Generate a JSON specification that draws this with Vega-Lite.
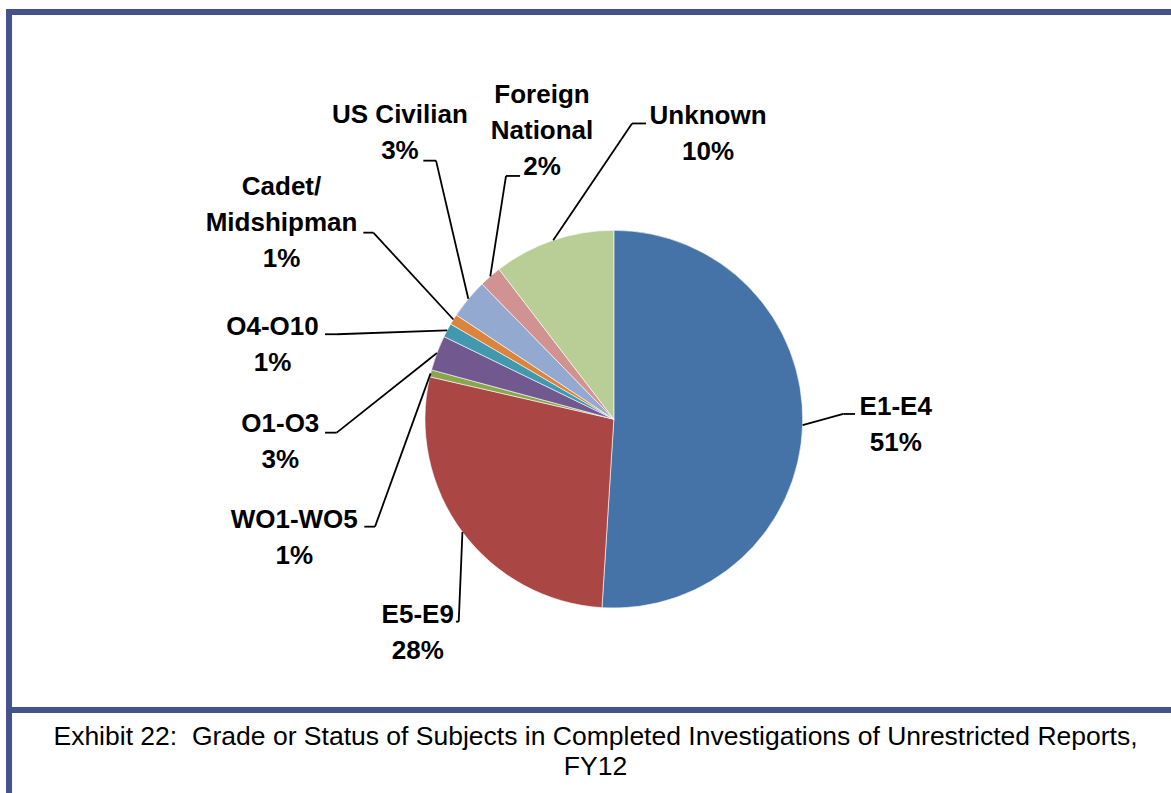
{
  "$schema": "https://vega.github.io/schema/vega-lite/v6.json",
  "width": 1171,
  "height": 793,
  "autosize": {"type": "none"},
  "padding": 0,
  "background": "white",
  "config": {"view": {"stroke": null}},
  "datasets": {
    "grades": [
      {"grade": "E1-E4", "percent": 51.0},
      {"grade": "E5-E9", "percent": 27.6},
      {"grade": "WO1-WO5", "percent": 0.6},
      {"grade": "O1-O3", "percent": 3.0},
      {"grade": "O4-O10", "percent": 1.2},
      {"grade": "Cadet/Midshipman", "percent": 0.9},
      {"grade": "US Civilian", "percent": 3.4},
      {"grade": "Foreign National", "percent": 1.9},
      {"grade": "Unknown", "percent": 10.4}
    ],
    "callouts": [
      {"grade": "E1-E4", "label": "E1-E4", "lx": 1.4926, "ly": 0.0222, "ex": 1.2151, "ey": 0.0275, "tx": 1.2771},
      {"grade": "E5-E9", "label": "E5-E9", "lx": -1.0383, "ly": -1.081, "ex": -0.8212, "ey": -1.0725, "tx": -0.8355},
      {"grade": "WO1-WO5", "label": "WO1-WO5", "lx": -1.6922, "ly": -0.5747, "ex": -1.2644, "ey": -0.5694, "tx": -1.321},
      {"grade": "O1-O3", "label": "O1-O3", "lx": -1.7658, "ly": -0.0662, "ex": -1.4672, "ey": -0.0715, "tx": -1.5291},
      {"grade": "O4-O10", "label": "O4-O10", "lx": -1.8071, "ly": 0.446, "ex": -1.4656, "ey": 0.4497, "tx": -1.5291},
      {"grade": "Cadet/Midshipman", "label": "Cadet/\nMidshipman", "lx": -1.7594, "ly": 1.1874, "ex": -1.2734, "ey": 0.9878, "tx": -1.3263},
      {"grade": "US Civilian", "label": "US Civilian", "lx": -1.1325, "ly": 1.5672, "ex": -0.9414, "ey": 1.3691, "tx": -1.0086},
      {"grade": "Foreign National", "label": "Foreign\nNational", "lx": -0.3802, "ly": 1.6731, "ex": -0.5708, "ey": 1.2881, "tx": -0.4966},
      {"grade": "Unknown", "label": "Unknown", "lx": 0.4988, "ly": 1.5635, "ex": 0.0964, "ey": 1.5661, "tx": 0.1705}
    ]
  },
  "title": {
    "text": ["Exhibit 22:\u00a0 Grade or Status of Subjects in Completed Investigations of Unrestricted Reports,", "FY12"],
    "orient": "bottom",
    "anchor": "middle",
    "frame": "group",
    "offset": -51,
    "dx": 10,
    "baseline": "alphabetic",
    "font": "Liberation Sans",
    "fontSize": 26.5,
    "fontWeight": "normal",
    "lineHeight": 30,
    "color": "#000000"
  },
  "data": {"name": "grades"},
  "transform": [
    {"window": [{"op": "row_number", "as": "idx"}]},
    {"stack": "percent", "groupby": [], "sort": [{"field": "idx"}], "as": ["p0", "p1"]},
    {"calculate": "(datum.p0 + datum.p1) / 100 * PI", "as": "mid"},
    {"calculate": "sin(datum.mid)", "as": "sx"},
    {"calculate": "cos(datum.mid)", "as": "sy"},
    {"lookup": "grade", "from": {"data": {"name": "callouts"}, "key": "grade", "fields": ["label", "lx", "ly", "ex", "ey", "tx"]}},
    {"calculate": "datum.label + '\\n' + format(datum.percent / 100, '.0%')", "as": "txt"}
  ],
  "layer": [
    {
      "data": {"values": [{"frame": "top"}]},
      "mark": {"type": "rule", "stroke": "#44538B", "strokeWidth": 6},
      "encoding": {
        "x": {"datum": -3.2181, "type": "quantitative", "scale": {"domain": [-3.25, 2.95], "nice": false, "zero": false}, "axis": null},
        "x2": {"datum": 2.95},
        "y": {"datum": 2.1567, "type": "quantitative", "scale": {"domain": [-1.98, 2.22], "nice": false, "zero": false}, "axis": null}
      }
    },
    {
      "data": {"values": [{"frame": "left"}]},
      "mark": {"type": "rule", "stroke": "#44538B", "strokeWidth": 6},
      "encoding": {
        "x": {"datum": -3.2022, "type": "quantitative", "scale": {"domain": [-3.25, 2.95], "nice": false, "zero": false}, "axis": null},
        "y": {"datum": 2.1726, "type": "quantitative", "scale": {"domain": [-1.98, 2.22], "nice": false, "zero": false}, "axis": null},
        "y2": {"datum": -1.98}
      }
    },
    {
      "data": {"values": [{"frame": "separator"}]},
      "mark": {"type": "rule", "stroke": "#44538B", "strokeWidth": 6},
      "encoding": {
        "x": {"datum": -3.2181, "type": "quantitative", "scale": {"domain": [-3.25, 2.95], "nice": false, "zero": false}, "axis": null},
        "x2": {"datum": 2.95},
        "y": {"datum": -1.5402, "type": "quantitative", "scale": {"domain": [-1.98, 2.22], "nice": false, "zero": false}, "axis": null}
      }
    },
    {
      "mark": {"type": "arc", "radius": {"expr": "width / 6.2"}, "stroke": "#ffffff", "strokeWidth": 0.6},
      "encoding": {
        "x": {"datum": 0, "type": "quantitative", "scale": {"domain": [-3.25, 2.95], "nice": false, "zero": false}, "axis": null},
        "y": {"datum": 0, "type": "quantitative", "scale": {"domain": [-1.98, 2.22], "nice": false, "zero": false}, "axis": null},
        "theta": {"field": "p0", "type": "quantitative", "stack": null, "scale": {"domain": [0, 100]}},
        "theta2": {"field": "p1"},
        "color": {
          "field": "grade",
          "type": "nominal",
          "scale": {
            "domain": ["E1-E4", "E5-E9", "WO1-WO5", "O1-O3", "O4-O10", "Cadet/Midshipman", "US Civilian", "Foreign National", "Unknown"],
            "range": ["#4572A7", "#AA4643", "#89A54E", "#71588F", "#4198AF", "#DB843D", "#93A9CF", "#D19392", "#B9CD96"]
          },
          "legend": null
        }
      }
    },
    {
      "mark": {"type": "rule", "stroke": "#000000", "strokeWidth": 1.8},
      "encoding": {
        "x": {"field": "sx", "type": "quantitative", "scale": {"domain": [-3.25, 2.95], "nice": false, "zero": false}, "axis": null},
        "y": {"field": "sy", "type": "quantitative", "scale": {"domain": [-1.98, 2.22], "nice": false, "zero": false}, "axis": null},
        "x2": {"field": "ex"},
        "y2": {"field": "ey"}
      }
    },
    {
      "mark": {"type": "rule", "stroke": "#000000", "strokeWidth": 1.8},
      "encoding": {
        "x": {"field": "ex", "type": "quantitative", "scale": {"domain": [-3.25, 2.95], "nice": false, "zero": false}, "axis": null},
        "x2": {"field": "tx"},
        "y": {"field": "ey", "type": "quantitative", "scale": {"domain": [-1.98, 2.22], "nice": false, "zero": false}, "axis": null}
      }
    },
    {
      "mark": {
        "type": "text",
        "align": "center",
        "baseline": "alphabetic",
        "lineBreak": "\n",
        "lineHeight": 36,
        "font": "Liberation Sans Narrow, Arial Narrow, Liberation Sans",
        "fontSize": 26,
        "fontWeight": "bold",
        "color": "#000000"
      },
      "encoding": {
        "x": {"field": "lx", "type": "quantitative", "scale": {"domain": [-3.25, 2.95], "nice": false, "zero": false}, "axis": null},
        "y": {"field": "ly", "type": "quantitative", "scale": {"domain": [-1.98, 2.22], "nice": false, "zero": false}, "axis": null},
        "text": {"field": "txt", "type": "nominal"}
      }
    }
  ]
}
